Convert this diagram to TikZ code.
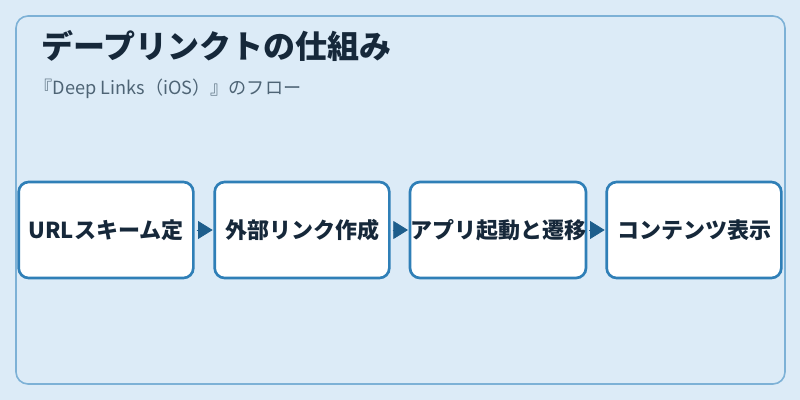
\documentclass[tikz,border=0pt]{standalone}
\usepackage{fontspec}
\setmainfont{Noto Sans CJK JP}
\usepackage{xcolor}
\usetikzlibrary{arrows.meta}

\definecolor{pagebg}{HTML}{DCEBF7}
\definecolor{frameline}{HTML}{7DB1D6}
\definecolor{boxline}{HTML}{2F7FB7}
\definecolor{arrowfill}{HTML}{1E5E8C}
\definecolor{titletext}{HTML}{16283A}
\definecolor{subtext}{HTML}{4E6475}

\begin{document}
\begin{tikzpicture}[x=0.75pt,y=-0.75pt,
    stepbox/.style={draw=boxline, line width=2pt, fill=white, rounded corners=7.5pt,
      minimum width=131pt, minimum height=72pt, inner sep=0pt,
      font=\fontsize{16.5}{19}\selectfont\bfseries, text=titletext},
    flowarrow/.style={draw=arrowfill, fill=arrowfill, line width=0.6pt,
      -{Triangle[length=11pt,width=13.5pt]}, shorten <=1.5pt, shorten >=0.5pt}]
  \fill[pagebg] (0,0) rectangle (800,400);
  \draw[frameline, line width=1.2pt, rounded corners=9pt] (16,16) rectangle (785,384);

  \node[anchor=west, font=\fontsize{24}{28}\selectfont\bfseries, text=titletext] (title) at (37,46) {デープリンクトの仕組み};
  \node[anchor=west, font=\fontsize{13.6}{16}\selectfont, text=subtext] (subtitle) at (30,89) {『Deep Links（iOS）』のフロー};

  \node[stepbox] (scheme) at (106,230) {URLスキーム定};
  \node[stepbox] (link) at (302,230) {外部リンク作成};
  \node[stepbox] (launch) at (498,230) {アプリ起動と遷移};
  \node[stepbox] (show) at (694,230) {コンテンツ表示};

  \draw[flowarrow] (scheme) -- (link);
  \draw[flowarrow] (link) -- (launch);
  \draw[flowarrow] (launch) -- (show);
\end{tikzpicture}
\end{document}
